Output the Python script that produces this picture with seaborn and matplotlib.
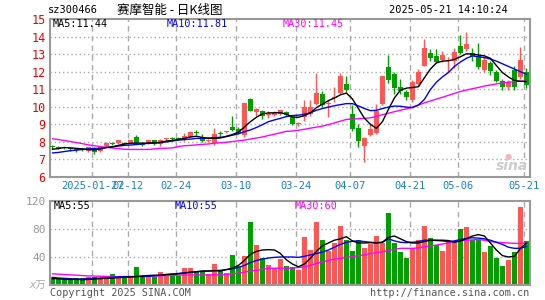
import matplotlib
matplotlib.use("Agg")
import matplotlib.pyplot as plt
import matplotlib.transforms as mtransforms
import numpy as np
import pandas as pd
import seaborn as sns

# ---------------- data ----------------
opens = [7.75, 7.7, 7.68, 7.62, 7.57, 7.6, 7.5, 7.65, 7.5, 7.75,
         7.92, 7.95, 7.92, 7.95, 8.3, 7.87, 7.95, 8.1, 7.88, 8.18,
         8.22, 8.22, 8.08, 8.3, 8.54, 8.3, 8.06, 7.92, 8.47, 8.56,
         8.83, 8.75, 8.39, 10.44, 9.72, 9.76, 9.58, 9.58, 9.6, 9.72,
         9.4, 9.04, 9.43, 9.6, 10.14, 10.7, 10.18, 10.54, 10.77, 11.3,
         9.57, 8.77, 7.78, 8.39, 8.52, 10.14, 12.25, 11.85, 11.14, 10.86,
         10.4, 11.3, 12.33, 13.04, 12.89, 12.66, 12.6, 12.62, 13.48, 13.28,
         13.08, 12.88, 12.09, 12.5, 12.0, 11.47, 11.14, 12.09, 11.68, 12.0]
closes = [7.7, 7.68, 7.66, 7.6, 7.55, 7.58, 7.7, 7.45, 7.72, 7.95,
          7.9, 8.1, 7.9, 8.1, 7.95, 7.85, 8.1, 7.88, 8.12, 8.2,
          8.2, 8.2, 8.33, 8.56, 8.52, 8.03, 8.08, 8.45, 8.45, 8.58,
          8.66, 8.5, 10.23, 9.76, 9.9, 9.5, 9.6, 9.6, 9.8, 9.55,
          9.0, 9.06, 10.0, 10.0, 10.77, 10.1, 10.2, 10.56, 11.77, 10.95,
          8.72, 8.05, 8.24, 8.72, 9.76, 11.75, 11.52, 11.05, 10.9, 10.57,
          11.42, 12.0, 13.35, 12.8, 12.57, 12.96, 12.64, 13.12, 13.05, 13.55,
          12.92, 12.28, 12.68, 12.05, 11.47, 11.12, 11.42, 11.12, 12.64, 11.25]
highs = [7.85, 7.78, 7.72, 7.66, 7.62, 7.65, 7.72, 7.7, 7.75, 7.97,
         8.0, 8.12, 7.98, 8.12, 8.42, 7.92, 8.12, 8.12, 8.14, 8.25,
         8.3, 8.3, 8.5, 8.62, 8.65, 8.45, 8.15, 8.77, 8.6, 8.62,
         9.47, 8.85, 10.23, 10.5, 9.95, 9.82, 9.75, 9.75, 9.82, 9.75,
         9.45, 9.15, 10.4, 10.4, 11.9, 10.9, 10.4, 11.15, 11.95, 11.75,
         10.1, 9.0, 8.3, 9.1, 10.15, 11.75, 12.95, 12.0, 11.6, 10.95,
         11.55, 12.15, 13.88, 13.3, 13.3, 13.2, 12.85, 13.35, 14.09, 14.27,
         13.35, 13.62, 12.82, 12.6, 12.08, 11.6, 11.55, 12.3, 13.42, 12.2]
lows = [7.6, 7.6, 7.6, 7.5, 7.45, 7.5, 7.45, 7.3, 7.45, 7.72,
        7.82, 7.9, 7.82, 7.9, 7.9, 7.78, 7.9, 7.82, 7.75, 8.12,
        8.12, 8.1, 8.05, 8.28, 8.4, 7.98, 8.0, 7.85, 8.3, 8.5,
        8.62, 8.45, 8.3, 9.74, 9.45, 9.3, 9.35, 9.5, 9.55, 9.5,
        8.95, 8.9, 9.2, 9.5, 10.1, 10.0, 9.43, 10.3, 10.7, 10.85,
        8.62, 7.7, 6.87, 8.35, 8.43, 10.1, 11.33, 10.75, 10.75, 10.4,
        10.25, 11.2, 12.3, 12.6, 12.5, 12.55, 12.0, 12.2, 13.0, 13.15,
        12.6, 12.15, 12.0, 11.8, 11.4, 10.95, 10.95, 10.98, 11.6, 11.05]
volumes = [11, 8, 9, 8.6, 10, 10.5, 11, 12, 10.5, 9.5,
           15.7, 12, 10.5, 12.9, 25.5, 13, 12, 11, 18, 15,
           13, 13, 23.8, 24, 19, 19, 16, 30, 20, 16.7,
           42.9, 27, 41.4, 90, 57, 38, 28.6, 23.8, 36.7, 27,
           26, 21.4, 69, 50, 90, 64, 48.6, 60.5, 84.8, 64,
           48.6, 64, 53.3, 58, 70, 59.5, 103, 59.5, 47.6, 39,
           52.4, 64, 84.8, 67.6, 57, 49, 63, 63, 79.5, 83.3,
           65, 64, 46.7, 56, 39, 27.6, 35.7, 46.7, 112, 63]
ma5 = [7.58, 7.62, 7.68, 7.66, 7.63, 7.6, 7.56, 7.55, 7.6, 7.68,
       7.72, 7.8, 7.88, 7.92, 7.93, 7.93, 7.93, 7.95, 7.97, 8.05,
       8.08, 8.14, 8.2, 8.28, 8.32, 8.25, 8.2, 8.2, 8.22, 8.32,
       8.42, 8.55, 8.85, 9.15, 9.4, 9.6, 9.65, 9.66, 9.66, 9.58,
       9.42, 9.4, 9.5, 9.65, 9.95, 10.15, 10.35, 10.5, 10.68, 10.78,
       10.45, 9.9, 9.35, 9.0, 8.77, 9.15, 9.85, 10.5, 10.95, 11.06,
       11.1, 11.14, 11.65, 12.15, 12.5, 12.6, 12.62, 12.7, 12.85, 13.02,
       13.0, 12.95, 12.9, 12.76, 12.35, 11.95, 11.7, 11.5, 11.45, 11.44]
ma10 = [7.37, 7.4, 7.45, 7.5, 7.53, 7.57, 7.6, 7.62, 7.63, 7.68,
        7.72, 7.76, 7.8, 7.82, 7.85, 7.88, 7.92, 7.94, 7.96, 8.0,
        8.05, 8.1, 8.13, 8.16, 8.2, 8.2, 8.22, 8.24, 8.26, 8.3,
        8.38, 8.46, 8.58, 8.68, 8.82, 8.98, 9.15, 9.25, 9.34, 9.44,
        9.5, 9.52, 9.58, 9.66, 9.8, 9.9, 9.98, 10.06, 10.12, 10.18,
        10.18, 10.05, 9.9, 9.78, 9.8, 9.9, 9.98, 10.04, 10.03, 9.98,
        9.95, 10.1, 10.42, 10.98, 11.4, 11.7, 11.95, 12.3, 12.55, 12.76,
        12.9, 12.85, 12.8, 12.72, 12.6, 12.45, 12.3, 12.15, 12.0, 11.85]
ma30 = [8.18, 8.13, 8.08, 8.02, 7.96, 7.9, 7.83, 7.78, 7.73, 7.69,
        7.65, 7.62, 7.58, 7.57, 7.57, 7.57, 7.57, 7.6, 7.63, 7.64,
        7.66, 7.74, 7.78, 7.8, 7.83, 7.86, 7.88, 7.92, 7.95, 7.98,
        8.02, 8.06, 8.1, 8.16, 8.22, 8.28, 8.36, 8.44, 8.52, 8.6,
        8.62, 8.66, 8.72, 8.78, 8.84, 8.9, 8.98, 9.08, 9.18, 9.28,
        9.3, 9.32, 9.34, 9.37, 9.45, 9.55, 9.63, 9.72, 9.8, 9.88,
        9.98, 10.1, 10.22, 10.33, 10.44, 10.54, 10.65, 10.76, 10.87, 10.95,
        11.03, 11.1, 11.18, 11.24, 11.3, 11.36, 11.4, 11.43, 11.46, 11.47]
vol_ma5 = [9, 9, 8, 8, 8, 7.5, 8, 8.5, 9, 9.5,
           10, 10.5, 11, 11.5, 12, 13, 13.5, 14, 14, 15,
           15.5, 16, 17, 18, 19, 20, 20, 20.5, 20, 22,
           24, 28, 35, 44, 48, 50, 50.5, 50, 45, 36,
           30, 26, 30, 38, 48, 56, 60, 64, 66, 69,
           63, 60, 60, 60.5, 60, 61, 68, 70, 66, 62,
           60, 60, 62, 64, 64, 64, 63.5, 61, 63, 66,
           70, 72, 70, 60, 50, 42, 40, 41, 52, 60]
vol_ma10 = [11, 10, 9.5, 9, 8.5, 8.5, 9, 9.5, 10, 10.5,
            11, 11.5, 12, 12, 12, 12, 12.5, 13, 14, 15,
            15.5, 16.5, 17.5, 18.5, 19, 19.5, 20, 20.5, 21, 22,
            23, 25, 28, 32, 35, 37, 38.5, 39.5, 40, 40,
            40, 39.5, 41, 43, 45, 47, 50, 54, 58, 61,
            62.5, 63, 62, 61, 60.5, 61, 66, 63, 61, 60.5,
            61, 62, 64, 64, 63.5, 63, 62, 63, 65, 66.5,
            67.5, 67, 66, 64, 61, 58, 54, 52.4, 52.4, 55]
vol_ma30 = [16, 15.5, 15, 14.5, 14, 13.5, 13, 12.8, 12.5, 12.3,
            12, 12, 12, 12, 12, 12.5, 13, 13, 13, 13.5,
            13.5, 14, 14.3, 14.3, 14.3, 14.3, 14.3, 14.5, 14.5, 15,
            16, 17, 18.5, 20, 21, 22.5, 24, 24, 24, 24,
            24, 25, 26, 28, 31, 33, 35, 37, 38, 39.5,
            40.5, 42, 43, 45, 46, 47.5, 49, 51, 52.4, 52.4,
            52.4, 53, 54.8, 56, 57, 58.5, 60, 62, 63, 64,
            64.5, 65, 64, 62, 61, 60.5, 60, 59.5, 59.5, 60]
tick_index = [7, 13, 21, 31, 41, 50, 60, 68, 79]
tick_labels = ["2025-01-27", "02-12", "02-24", "03-10", "03-24",
               "04-07", "04-21", "05-06", "05-21"]
price_ticks = [6, 7, 8, 9, 10, 11, 12, 13, 14, 15]
vol_ticks = [40, 80, 120]

# ---------------- style ----------------
sns.set_style("white")
plt.rcParams['font.family'] = ['DejaVu Sans Mono', 'Noto Sans CJK SC']
RED = '#ff5555'
GREEN = '#00a000'
GRID = '#aaaaaa'
SPINE = '#999999'

W, H = 545, 300
fig = plt.figure(figsize=(W / 100, H / 100), dpi=100)
fig.patch.set_facecolor('white')

def fx(px):
    return px / W

def fy(py):
    return 1 - py / H

axp = fig.add_axes([fx(50), fy(177), fx(480), (177 - 19) / H])
axv = fig.add_axes([fx(50), fy(285), fx(480), (285 - 201) / H])

n = len(closes)
df = pd.DataFrame({
    'x': np.arange(n) + 0.4,
    'open': opens, 'close': closes, 'high': highs, 'low': lows,
    'vol': volumes, 'ma5': ma5, 'ma10': ma10, 'ma30': ma30,
    'vma5': vol_ma5, 'vma10': vol_ma10, 'vma30': vol_ma30,
})
df['up'] = df['close'] >= df['open']
df['color'] = np.where(df['up'], RED, GREEN)

for ax, ylim in ((axp, (6, 15)), (axv, (0, 120))):
    ax.set_xlim(0, 80)
    ax.set_ylim(*ylim)
    for s in ax.spines.values():
        s.set_color(SPINE)
        s.set_linewidth(1.5)
    ax.set_xticks([])
    ax.tick_params(axis='y', length=0, pad=3)
    for t in tick_index:
        ax.axvline(t, color=GRID, lw=1, ls=(0, (4, 3)), zorder=0)

for p in range(7, 15):
    axp.axhline(p, color=GRID, lw=1, ls=(0, (1, 2)), zorder=0)
for v in (40, 80):
    axv.axhline(v, color=GRID, lw=1, ls=(0, (1, 2)), zorder=0)

# candles
axp.vlines(df['x'], df['low'], df['high'], colors=df['color'], lw=1, zorder=2)
body_h = np.maximum((df['close'] - df['open']).abs(), 0.06)
body_b = np.minimum(df['open'], df['close'])
body_b = np.where((df['close'] - df['open']).abs() < 0.06,
                  (df['open'] + df['close']) / 2 - 0.03, body_b)
axp.bar(df['x'], body_h, bottom=body_b, width=0.72, color=df['color'],
        linewidth=0, zorder=3)

# moving averages
sns.lineplot(data=df, x='x', y='ma30', ax=axp, color='#ff00ff', lw=1, zorder=4)
sns.lineplot(data=df, x='x', y='ma10', ax=axp, color='#0000ff', lw=1, zorder=5)
sns.lineplot(data=df, x='x', y='ma5', ax=axp, color='black', lw=1, zorder=6)

# volume
axv.bar(df['x'], df['vol'], width=0.72, color=df['color'], linewidth=0, zorder=2)
sns.lineplot(data=df, x='x', y='vma30', ax=axv, color='#ff00ff', lw=1, zorder=4)
sns.lineplot(data=df, x='x', y='vma10', ax=axv, color='#0000ff', lw=1, zorder=5)
sns.lineplot(data=df, x='x', y='vma5', ax=axv, color='black', lw=1, zorder=6)

for ax in (axp, axv):
    ax.set_xlabel('')
    ax.set_ylabel('')
    ax.set_xlim(0, 80)

axp.set_yticks(price_ticks)
axp.set_yticklabels([str(p) for p in price_ticks], color='#ee0000', fontsize=8.5)
axv.set_yticks(vol_ticks)
axv.set_yticklabels([str(v) for v in vol_ticks], color='#999999', fontsize=8)
axv.set_ylim(0, 120)
axp.set_ylim(6, 15)

# date labels between panels
trans = mtransforms.blended_transform_factory(axp.transData, fig.transFigure)
for t, lab in zip(tick_index, tick_labels):
    axp.text(t, fy(186), lab, transform=trans, ha='center', va='center',
             color='#1a7fd0', fontsize=7.5, clip_on=False)

# header
fig.text(fx(48), fy(10), 'sz300466', ha='left', va='center', fontsize=7.5, color='black')
fig.text(fx(170), fy(10), '赛摩智能 - 日K线图', ha='center', va='center', fontsize=9,
         color='black', family=['Noto Sans CJK SC', 'DejaVu Sans'])
fig.text(fx(508), fy(10), '2025-05-21 14:10:24', ha='right', va='center',
         fontsize=7.5, color='black')

# MA legends
fig.text(fx(53), fy(24), 'MA5:11.44', ha='left', va='center', fontsize=7.3, color='black')
fig.text(fx(167), fy(24), 'MA10:11.81', ha='left', va='center', fontsize=7.3, color='#0000ff')
fig.text(fx(283), fy(24), 'MA30:11.45', ha='left', va='center', fontsize=7.3, color='#ff00ff')
fig.text(fx(54), fy(206), 'MA5:55', ha='left', va='center', fontsize=7.3, color='black')
fig.text(fx(175), fy(206), 'MA10:55', ha='left', va='center', fontsize=7.3, color='#0000ff')
fig.text(fx(295), fy(206), 'MA30:60', ha='left', va='center', fontsize=7.3, color='#ff00ff')

# unit label & footer
fig.text(fx(46), fy(286), 'x万', ha='right', va='center', fontsize=7.5, color='#aaaaaa',
         style='italic', family=['DejaVu Sans Mono', 'Noto Sans CJK SC'])
fig.text(fx(50), fy(293), 'Copyright 2025 SINA.COM', ha='left', va='center',
         fontsize=7.3, color='#555555')
fig.text(fx(529), fy(293), 'http://finance.sina.com.cn', ha='right', va='center',
         fontsize=7.3, color='#555555')

# sina watermark
fig.text(fx(512), fy(166), 'sina', ha='center', va='center', fontsize=10,
         color='#cccccc', style='italic', weight='bold', family='DejaVu Sans')
fig.text(fx(508), fy(156), '●', ha='center', va='center', fontsize=6,
         color='#f4b8b8', family='DejaVu Sans')

fig.savefig('out.png', dpi=100, facecolor='white')
